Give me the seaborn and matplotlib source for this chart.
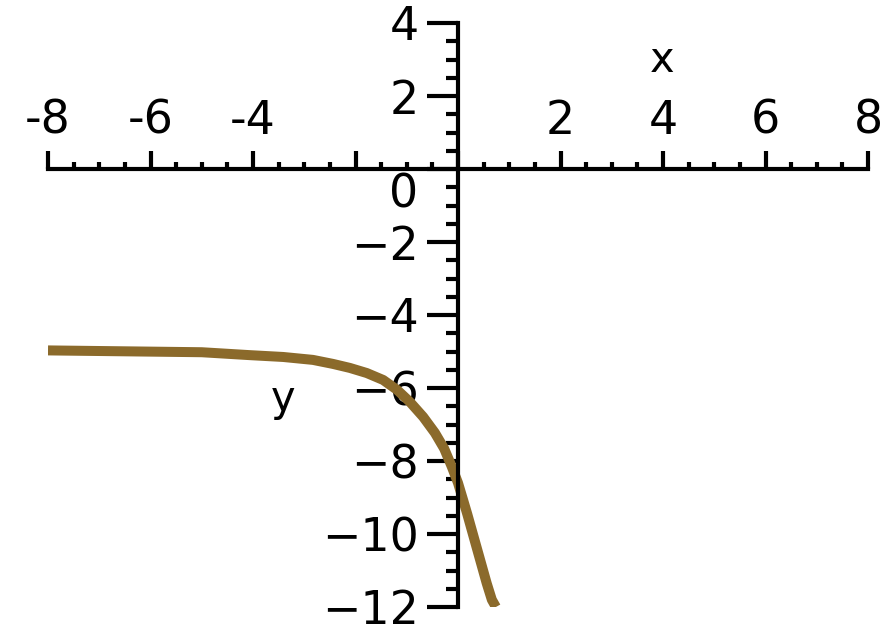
import numpy as np
import pandas as pd
import matplotlib
matplotlib.use('Agg')
import matplotlib.pyplot as plt
import seaborn as sns

# values
x_vals = [-8.0, -5.0, -4.06, -3.41, -2.83, -2.44, -2.11, -1.78, -1.46, -1.19, -0.94, -0.68,
          -0.45, -0.27, -0.12, 0.0, 0.10, 0.18, 0.27, 0.37, 0.47, 0.56, 0.66, 0.74]
y_vals = [-4.97, -5.02, -5.10, -5.15, -5.23, -5.34, -5.45, -5.59, -5.78, -6.05, -6.38, -6.79,
          -7.23, -7.66, -8.16, -8.6, -9.07, -9.45, -9.9, -10.4, -10.9, -11.35, -11.8, -12.0]

x_ticks = [-8, -6, -4, -2, 0, 2, 4, 6, 8]
x_ticklabels = ['-8', '-6', '-4', '', '', '2', '4', '6', '8']
y_ticks = [4, 2, 0, -2, -4, -6, -8, -10, -12]
y_ticklabels = ['4', '2', '', '\u22122', '\u22124', '\u22126', '\u22128', '\u221210', '\u221212']

df = pd.DataFrame({'x': x_vals, 'y': y_vals})

sns.set_style('white')
plt.rcParams['font.family'] = ['DejaVu Sans']
plt.rcParams['text.color'] = 'black'
plt.rcParams['xtick.color'] = 'black'
plt.rcParams['ytick.color'] = 'black'

fig = plt.figure(figsize=(8.81, 6.34), dpi=100)
ax = fig.add_axes([48/881, 27/634, 820/881, 584/634])

sns.lineplot(data=df, x='x', y='y', ax=ax, color='#8b6a2b', linewidth=7.2,
             sort=False, estimator=None)
ax.lines[0].set_solid_capstyle('butt')
ax.lines[0].set_solid_joinstyle('round')

ax.set_xlim(-8, 8)
ax.set_ylim(-12, 4)
ax.set_xlabel('')
ax.set_ylabel('')

# axes through the origin, Maple style
for s in ['bottom', 'right']:
    ax.spines[s].set_visible(False)
ax.spines['top'].set_position(('data', 0))
ax.spines['left'].set_position(('data', 0))
for s in ['top', 'left']:
    ax.spines[s].set_linewidth(3)
    ax.spines[s].set_color('black')

ax.xaxis.set_ticks_position('top')
ax.set_xticks(x_ticks)
ax.set_xticklabels(x_ticklabels, fontsize=33, color='black')
ax.set_xticks(np.arange(-8, 8.01, 0.5), minor=True)
ax.tick_params(axis='x', which='both', top=True, bottom=False, labeltop=True, labelbottom=False)
ax.tick_params(axis='x', which='major', direction='out', length=13, width=3, pad=5)
ax.tick_params(axis='x', which='minor', direction='out', length=5, width=3)

ax.yaxis.set_ticks_position('left')
ax.set_yticks(y_ticks)
ax.set_yticklabels(y_ticklabels, fontsize=33, color='black')
ax.set_yticks(np.arange(-12, 4.01, 0.5), minor=True)
ax.tick_params(axis='y', which='both', left=True, right=False)
ax.tick_params(axis='y', which='major', direction='out', length=22, width=3, pad=6)
ax.tick_params(axis='y', which='minor', direction='out', length=9, width=3)

# the zero label sits below the x axis
ax.text(-0.78, -0.72, '0', fontsize=33, ha='right', va='center')

ax.text(3.98, 3.0, 'x', fontsize=30, ha='center', va='center')
ax.text(-3.41, -6.3, 'y', fontsize=30, ha='center', va='center')

ax.grid(False)
fig.savefig('out.png', dpi=100)
